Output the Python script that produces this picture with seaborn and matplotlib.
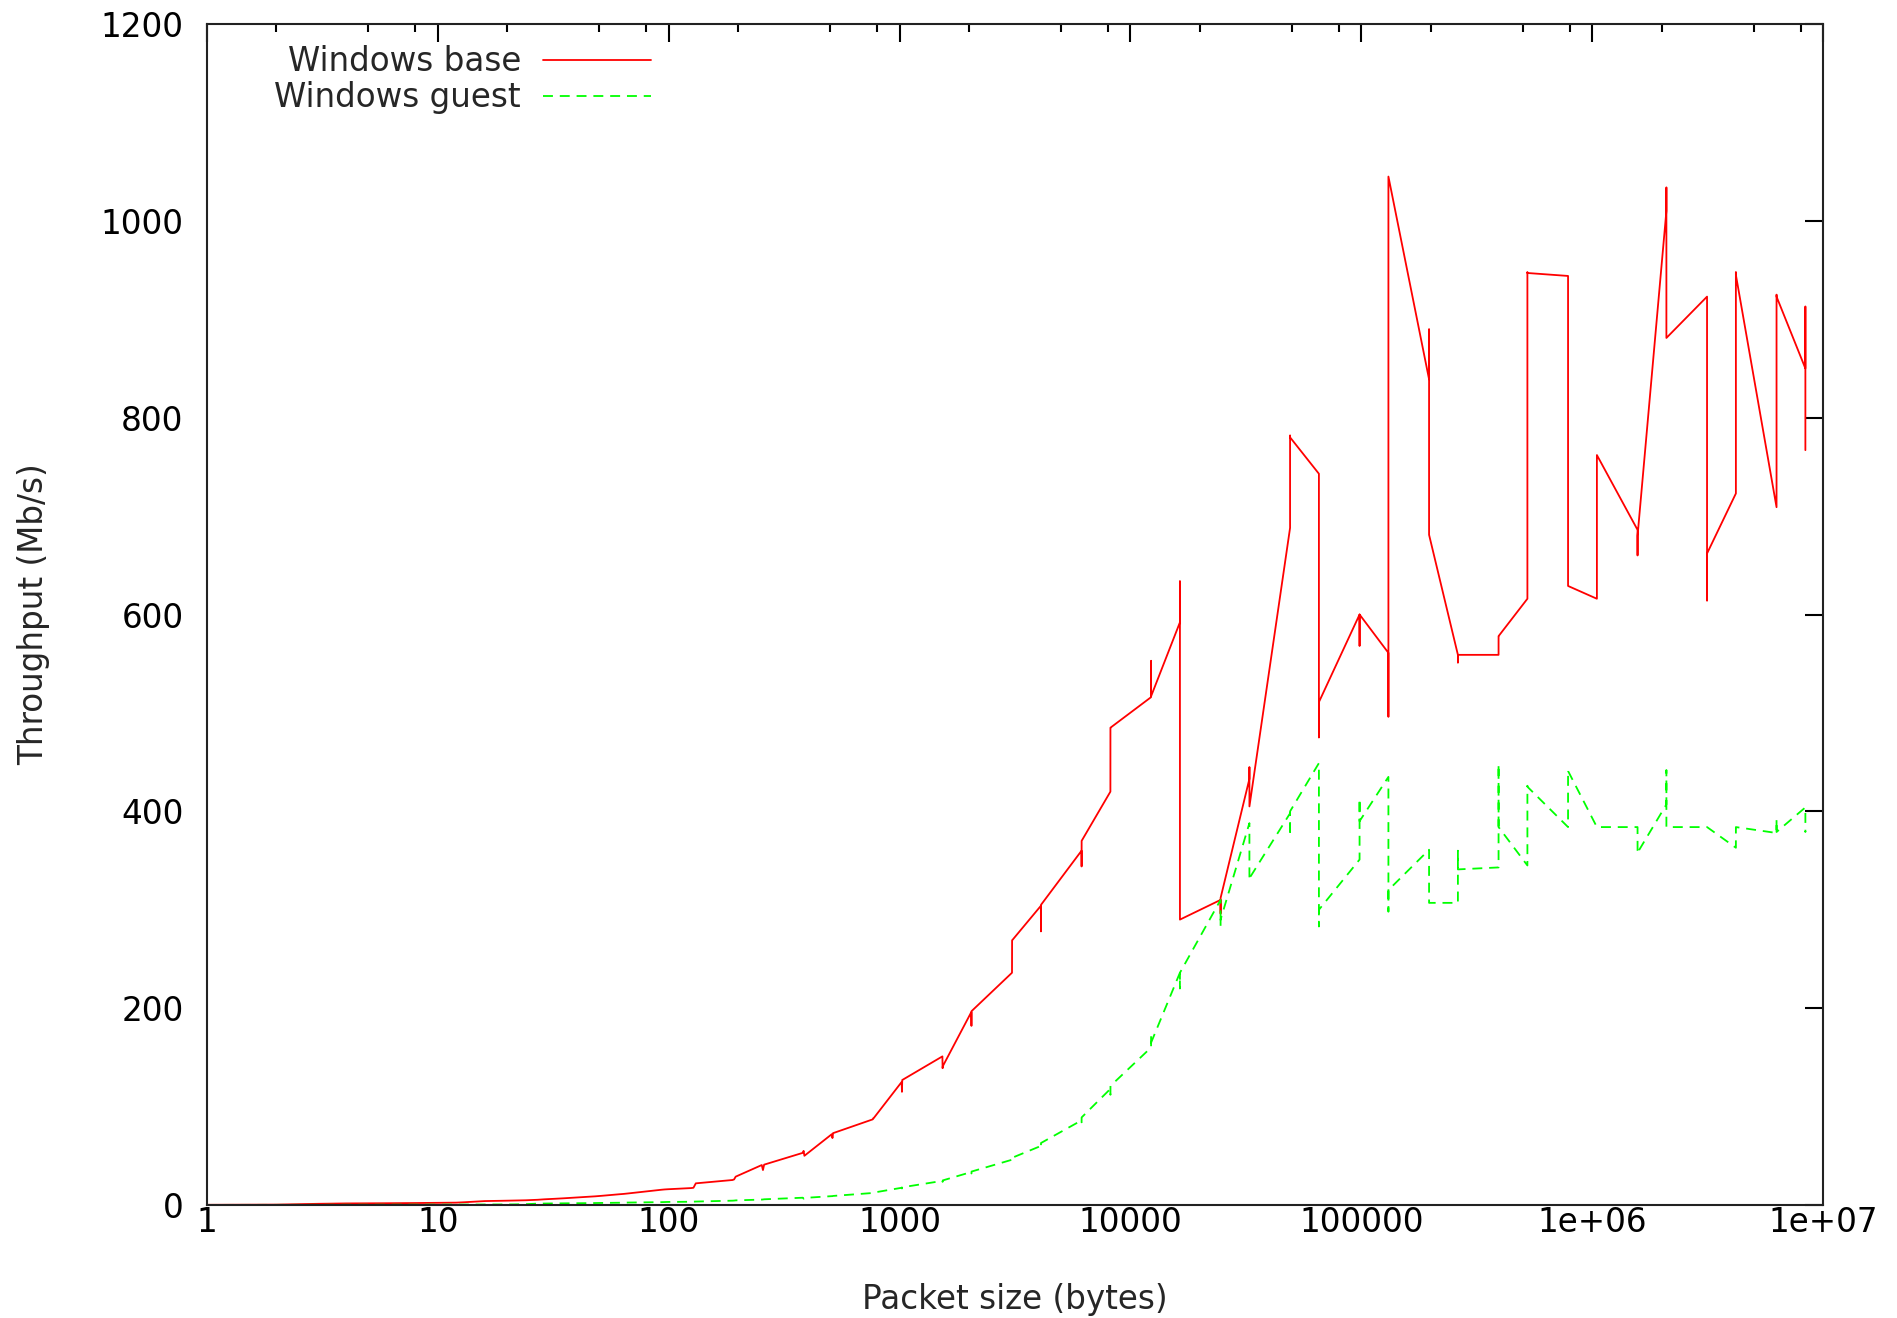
import matplotlib
matplotlib.use("Agg")
import matplotlib.pyplot as plt
import seaborn as sns
import pandas as pd
from matplotlib.ticker import FixedLocator, FixedFormatter, NullFormatter

# ---- data (NetPIPE-style packet sizes, throughput in Mb/s) ----
packet_sizes = [
    1, 2, 3, 4, 6, 8, 12, 13, 16, 19, 21, 24, 27, 29, 32, 35, 45, 48, 51, 61, 64, 67,
    93, 96, 99, 125, 128, 131, 189, 192, 195, 253, 256, 259, 381, 384, 387,
    509, 512, 515, 765, 768, 771, 1021, 1024, 1027, 1533, 1536, 1539,
    2045, 2048, 2051, 3069, 3072, 3075, 4093, 4096, 4099, 6141, 6144, 6147,
    8189, 8192, 8195, 12285, 12288, 12291, 16381, 16384, 16387,
    24573, 24576, 24579, 32765, 32768, 32771, 49149, 49152, 49155,
    65533, 65536, 65539, 98301, 98304, 98307, 131069, 131072, 131075,
    196605, 196608, 196611, 262141, 262144, 262147, 393213, 393216, 393219,
    524285, 524288, 524291, 786429, 786432, 786435, 1048573, 1048576, 1048579,
    1572861, 1572864, 1572867, 2097149, 2097152, 2097155, 3145725, 3145728, 3145731,
    4194301, 4194304, 4194307, 6291453, 6291456, 6291459, 8388605, 8388608, 8388611,
]

windows_base = [
    0.2, 0.4, 1.2, 1.6, 1.8, 2.0, 2.4, 2.8, 4.0, 4.3, 4.5, 4.8, 5.3, 5.8, 6.3, 6.8, 8.4, 8.8, 9.3, 10.9, 11.3, 11.8,
    15.5, 15.8, 16.0, 17.2, 17.5, 22.0, 25.4, 26.0, 28.8, 40.6, 35.5, 41.0, 53, 55, 50,
    72, 68, 73, 87, 88, 88, 125, 115, 127, 151, 139, 141,
    196, 182, 197, 236, 269, 269, 304, 278, 305, 360, 344, 370,
    420, 485, 485, 516, 553, 517, 592, 634, 290,
    310, 296, 312, 433, 445, 405, 688, 782, 780,
    743, 475, 511, 600, 568, 600, 561, 496, 1045,
    839, 890, 681, 559, 551, 559, 559, 578, 578,
    616, 948, 947, 944, 629, 629, 616, 762, 762,
    686, 660, 680, 1010, 1034, 881, 923, 614, 662,
    723, 948, 945, 709, 925, 923, 850, 913, 767,
]

windows_guest = [
    0.1, 0.15, 0.2, 0.25, 0.3, 0.35, 0.4, 0.45, 0.5, 0.55, 0.6, 0.8, 1.4, 1.5, 1.6, 1.7, 1.9, 2.0, 2.1, 2.3, 2.4, 2.5,
    2.9, 3.0, 3.1, 3.3, 3.4, 3.5, 4.4, 4.5, 4.7, 5.5, 5.6, 5.8, 7.4, 6.4, 7.2,
    9.0, 9.0, 9.2, 12.2, 12.4, 12.6, 17.5, 16.8, 18.0, 24.5, 23.5, 25.0,
    33.5, 32, 34, 46, 45, 48, 60, 58, 63, 86, 84, 89,
    118, 112, 121, 160, 172, 165, 236, 220, 236,
    310, 283, 290, 388, 330, 332, 398, 375, 400,
    449, 283, 300, 351, 413, 390, 435, 298, 320,
    361, 307, 307, 307, 360, 341, 343, 448, 384,
    345, 426, 425, 384, 442, 441, 384, 384, 384,
    384, 357, 358, 407, 442, 384, 384, 384, 384,
    363, 384, 384, 378, 392, 379, 404, 379, 380,
]

series_names = ["Windows base", "Windows guest"]
series_colors = ["#ff0000", "#00ff00"]

x_tick_values = [1, 10, 100, 1000, 10000, 100000, 1000000, 10000000]
x_tick_labels = ["1", "10", "100", "1000", "10000", "100000", "1e+06", "1e+07"]
x_minor_multipliers = [2, 5, 8]
y_tick_values = [0, 200, 400, 600, 800, 1000, 1200]

x_label = "Packet size (bytes)"
y_label = "Throughput (Mb/s)"

# ---- build table ----
df = pd.DataFrame({
    "size": packet_sizes + packet_sizes,
    "throughput": windows_base + windows_guest,
    "series": [series_names[0]] * len(packet_sizes) + [series_names[1]] * len(packet_sizes),
})

sns.set_style("white")
plt.rcParams["font.family"] = ["DejaVu Sans"]
plt.rcParams["axes.linewidth"] = 1.5

FS = 23.5
W, H = 1897, 1318
fig = plt.figure(figsize=(W / 100, H / 100), dpi=100)
left, right, top, bottom = 207, 1823, 24, 1205
ax = fig.add_axes([left / W, 1 - bottom / H, (right - left) / W, (bottom - top) / H])

sns.lineplot(
    data=df, x="size", y="throughput", hue="series", style="series",
    palette=dict(zip(series_names, series_colors)),
    dashes={series_names[0]: "", series_names[1]: (5.5, 3.8)},
    estimator=None, sort=False, linewidth=1.3, legend=False, ax=ax,
)

ax.set_xscale("log")
ax.set_xlim(x_tick_values[0], x_tick_values[-1])
ax.set_ylim(y_tick_values[0], y_tick_values[-1])

minor_ticks = [m * d for d in x_tick_values[:-1] for m in x_minor_multipliers]
ax.xaxis.set_major_locator(FixedLocator(x_tick_values))
ax.xaxis.set_major_formatter(FixedFormatter(x_tick_labels))
ax.xaxis.set_minor_locator(FixedLocator(minor_ticks))
ax.xaxis.set_minor_formatter(NullFormatter())
ax.yaxis.set_major_locator(FixedLocator(y_tick_values))
ax.yaxis.set_minor_locator(FixedLocator([]))

ax.tick_params(which="both", direction="in", top=True, right=True,
               colors="black", width=1.5, labelsize=FS)
ax.tick_params(which="major", length=13)
ax.tick_params(which="minor", length=5.5)
ax.tick_params(axis="y", pad=17)
ax.tick_params(axis="x", pad=0.5)

for sp in ax.spines.values():
    sp.set_color("#222222")
    sp.set_linewidth(1.5)
    sp.set_zorder(5)

ax.set_xlabel(x_label, fontsize=FS, va="center")
ax.set_ylabel(y_label, fontsize=FS, va="center")
ax.xaxis.set_label_coords(0.5, -(1299 - bottom) / (bottom - top))
ax.yaxis.set_label_coords(-(left - 34) / (right - left), 0.5)

handles = ax.get_lines()[:2]
leg = ax.legend(
    handles, series_names, loc="upper right",
    bbox_to_anchor=((651 - left) / (right - left), 1 - (45 - top) / (bottom - top)),
    markerfirst=False, frameon=False, fontsize=FS, handlelength=3.3,
    handletextpad=0.68, labelspacing=0.09, borderpad=0, borderaxespad=0,
)

fig.savefig("out.png", dpi=100, facecolor="white")
